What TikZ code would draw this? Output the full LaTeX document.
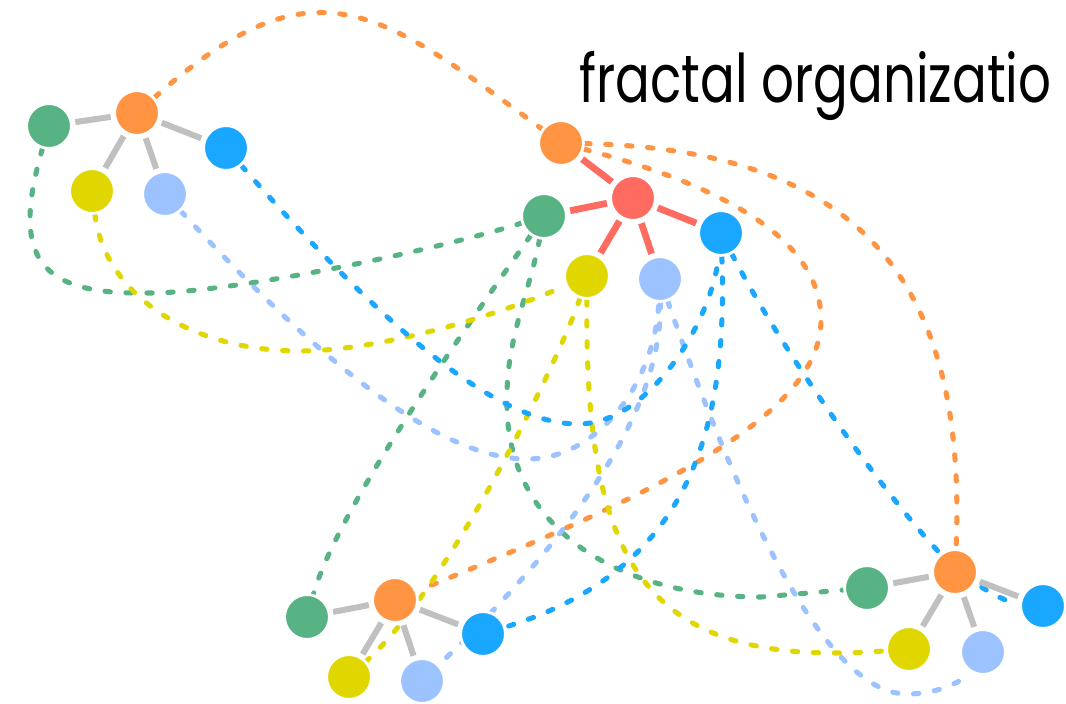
\documentclass[tikz,border=0pt]{standalone}
\usepackage{fontspec}
\usepackage{tikz}
\usetikzlibrary{backgrounds}
\newfontfamily\titlefont{Poppins}
\definecolor{orng}{RGB}{255,148,66}
\definecolor{rd}{RGB}{255,107,97}
\definecolor{grn}{RGB}{87,179,131}
\definecolor{blu}{RGB}{26,167,255}
\definecolor{ylw}{RGB}{224,214,0}
\definecolor{lblu}{RGB}{156,194,255}
\definecolor{spokegray}{RGB}{192,192,192}

\begin{document}
\begin{tikzpicture}[x=0.025cm, y=-0.025cm,
    member/.style ={circle, draw=white, line width=2pt, minimum size=1.12cm, inner sep=0pt},
    spoke/.style ={line width=4.3pt, spokegray, shorten <=2pt, shorten >=2pt},
    relation/.style ={line width=3.6pt, line cap=round, dash pattern=on 3.8pt off 11.1pt}]
   \useasboundingbox (0,0) rectangle (1066,704);
   \node[anchor=base west, inner sep=0pt] (title) at (579,102) {\resizebox{11.8cm}{1.28cm}{\titlefont fractal organizatio}};

   \node[member, fill=orng] (o1) at (137,113) {};
   \node[member, fill=grn] (g1) at (49,126) {};
   \node[member, fill=blu] (b1) at (226,148) {};
   \node[member, fill=ylw] (y1) at (92,191) {};
   \node[member, fill=lblu] (l1) at (165,194) {};

   \node[member, fill=rd] (r0) at (633,198) {};
   \node[member, fill=orng] (o0) at (561,143) {};
   \node[member, fill=grn] (g0) at (544,216) {};
   \node[member, fill=blu] (b0) at (721,233) {};
   \node[member, fill=ylw] (y0) at (587,276) {};
   \node[member, fill=lblu] (l0) at (660,279) {};

   \node[member, fill=orng] (o2) at (395,600) {};
   \node[member, fill=grn] (g2) at (307,617) {};
   \node[member, fill=blu] (b2) at (483,634) {};
   \node[member, fill=ylw] (y2) at (349,677) {};
   \node[member, fill=lblu] (l2) at (422,681) {};

   \node[member, fill=orng] (o3) at (955,572) {};
   \node[member, fill=grn] (g3) at (867,588) {};
   \node[member, fill=blu] (b3) at (1043,606) {};
   \node[member, fill=ylw] (y3) at (909,649) {};
   \node[member, fill=lblu] (l3) at (983,652) {};

   \begin{pgfonlayer}{background}
   \draw[relation, orng] (o1) .. controls (315,-45) and (380,10) .. (o0);
   \draw[relation, orng] (o0) .. controls (850,150) and (968,270) .. (o3);
   \draw[relation, orng] (o0) .. controls (700,180) and (821,230) .. (821,320) .. controls (821,420) and (640,500) .. (o2);

   \draw[relation, grn] (g1) .. controls (10,260) and (40,295) .. (149,293) .. controls (230,293) and (430,252) .. (g0);
   \draw[relation, grn] (g0) .. controls (500,280) and (340,500) .. (g2);
   \draw[relation, grn] (g0) .. controls (530,290) and (506,340) .. (507,400) .. controls (505,530) and (620,597) .. (761,597) -- (g3);

   \draw[relation, ylw] (y1) .. controls (105,295) and (190,351) .. (300,351) .. controls (380,351) and (500,315) .. (y0);
   \draw[relation, ylw] (y0) .. controls (565,345) and (455,580) .. (y2);
   \draw[relation, ylw] (y0) .. controls (585,560) and (640,670) .. (y3);

   \draw[relation, lblu] (l1) .. controls (300,340) and (430,459) .. (527,459) .. controls (600,459) and (655,380) .. (l0);
   \draw[relation, lblu] (l0) .. controls (662,400) and (590,520) .. (l2);
   \draw[relation, lblu] (l0) .. controls (730,480) and (820,694) .. (907,694) .. controls (940,694) and (965,680) .. (l3);

   \draw[relation, blu] (b1) .. controls (390,335) and (500,424) .. (578,424) .. controls (650,424) and (712,320) .. (b0);
   \draw[relation, blu] (b0) .. controls (728,430) and (690,570) .. (b2);
   \draw[relation, blu] (b0) .. controls (780,347) and (875,482) .. (935,548) .. controls (965,581) and (1005,603) .. (b3);

   \draw[spoke] (o1) to (g1);
   \draw[spoke] (o1) to (b1);
   \draw[spoke] (o1) to (y1);
   \draw[spoke] (o1) to (l1);
   \draw[spoke, rd, line width=4.8pt] (r0) to (o0);
   \draw[spoke, rd, line width=4.8pt] (r0) to (g0);
   \draw[spoke, rd, line width=4.8pt] (r0) to (b0);
   \draw[spoke, rd, line width=4.8pt] (r0) to (y0);
   \draw[spoke, rd, line width=4.8pt] (r0) to (l0);
   \draw[spoke] (o2) to (g2);
   \draw[spoke] (o2) to (b2);
   \draw[spoke] (o2) to (y2);
   \draw[spoke] (o2) to (l2);
   \draw[spoke] (o3) to (g3);
   \draw[spoke] (o3) to (b3);
   \draw[spoke] (o3) to (y3);
   \draw[spoke] (o3) to (l3);
   \end{pgfonlayer}
 \end{tikzpicture}
\end{document}
